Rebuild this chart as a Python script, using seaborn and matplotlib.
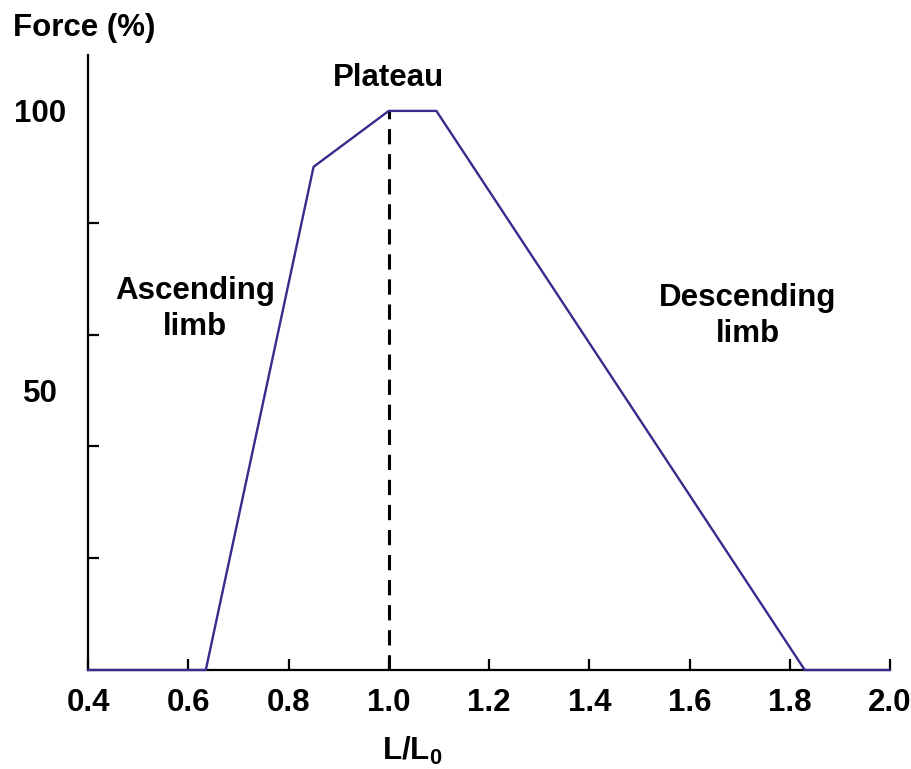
import matplotlib
matplotlib.use("Agg")
import matplotlib.pyplot as plt
import seaborn as sns
import pandas as pd

# Data
length_ratio = [0.4, 0.635, 0.85, 1.0, 1.095, 1.83, 2.0]
force_pct = [0, 0, 90, 100, 100, 0, 0]
plateau_x = [1.0, 1.0]
plateau_y = [0, 100]
x_ticks = [0.4, 0.6, 0.8, 1.0, 1.2, 1.4, 1.6, 1.8, 2.0]
x_tick_labels = ["0.4", "0.6", "0.8", "1.0", "1.2", "1.4", "1.6", "1.8", "2.0"]
y_minor_ticks = [20, 40, 60, 80, 100]
y_label_ticks = [50, 100]
y_tick_labels = ["50", "100"]

sns.set_theme(style="white")
plt.rcParams["font.family"] = ["Liberation Sans", "DejaVu Sans"]
plt.rcParams["font.weight"] = "bold"
plt.rcParams["text.color"] = "black"
plt.rcParams["axes.labelcolor"] = "black"
plt.rcParams["xtick.color"] = "black"
plt.rcParams["ytick.color"] = "black"
plt.rcParams["mathtext.fontset"] = "custom"
plt.rcParams["mathtext.rm"] = "Liberation Sans:bold"
plt.rcParams["mathtext.bf"] = "Liberation Sans:bold"
plt.rcParams["mathtext.it"] = "Liberation Sans:bold"

FS = 22.5

fig = plt.figure(figsize=(9.11, 7.69), dpi=100)
ax = fig.add_axes([88 / 911, 1 - 670 / 769, (890 - 88) / 911, (670 - 55) / 769])

df = pd.DataFrame({"x": length_ratio, "y": force_pct})
sns.lineplot(data=df, x="x", y="y", sort=False, estimator=None, ax=ax,
             color="#3b2a8c", linewidth=1.7, zorder=4, clip_on=False)
dash_df = pd.DataFrame({"x": plateau_x, "y": plateau_y})
sns.lineplot(data=dash_df, x="x", y="y", sort=False, estimator=None, ax=ax,
             color="black", linewidth=2.2, zorder=3)
ax.lines[-1].set_dashes([5, 3.2])

ax.set_xlim(0.4, 2.0)
ax.set_ylim(0, 110)

for s in ["top", "right"]:
    ax.spines[s].set_visible(False)
for s in ["left", "bottom"]:
    ax.spines[s].set_color("black")
    ax.spines[s].set_linewidth(1.6)

ax.set_xticks(x_ticks)
ax.set_xticklabels(x_tick_labels, fontsize=FS, fontweight="bold")
ax.tick_params(axis="x", which="major", bottom=True, direction="in", length=8,
               width=1.6, pad=13, colors="black")

ax.set_yticks(y_label_ticks)
ax.set_yticklabels(y_tick_labels, fontsize=FS, fontweight="bold", ha="center")
ax.tick_params(axis="y", which="major", left=True, length=0, pad=34.5, colors="black")
ax.set_yticks(y_minor_ticks, minor=True)
ax.tick_params(axis="y", which="minor", left=True, direction="in", length=8,
               width=1.6, colors="black")

ax.set_xlabel(r"$\mathbf{L/L_0}$", fontsize=FS)
ax.xaxis.set_label_coords((412 - 88) / 802, -0.105)
ax.set_ylabel("")

fig.text(13 / 911, 1 - 28 / 769, "Force (%)", fontsize=FS, fontweight="bold",
         ha="left", va="center")

ax.text(1.0, 105.8, "Plateau", fontsize=FS, fontweight="bold", ha="center", va="center")
ax.text(0.614, 64.6, "Ascending\nlimb", fontsize=FS, fontweight="bold",
        ha="center", va="center", linespacing=1.25)
ax.text(1.716, 63.3, "Descending\nlimb", fontsize=FS, fontweight="bold",
        ha="center", va="center", linespacing=1.25)

fig.savefig("out.png", dpi=100, facecolor="white")
